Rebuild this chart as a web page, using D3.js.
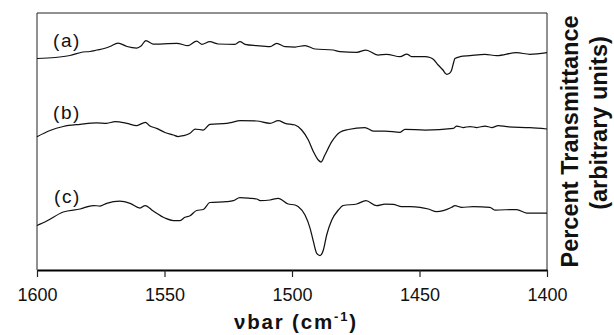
<!DOCTYPE html>
<html>
<head>
<meta charset="utf-8">
<script src="https://cdn.jsdelivr.net/npm/d3@7"></script>
<style>
  body { margin: 0; background: #fff; }
  svg { display: block; font-family: "Liberation Sans", Arial, sans-serif; }
</style>
</head>
<body>
<svg id="chart"></svg>
<script>
// wavenumber (cm-1), transmittance (arbitrary, offset per trace)
const seriesA = [
  [1600, 211.5], [1592.9, 212.5], [1587.1, 214.5], [1582.0, 218], [1579.2, 218.5],
  [1576.5, 220], [1573.7, 221.5], [1571.4, 223.5], [1568.2, 227], [1564.7, 223.5],
  [1560.9, 222], [1559.2, 224], [1557.3, 229.3], [1554.5, 226], [1551.8, 226],
  [1545.2, 226.7], [1540.7, 224.3], [1537.4, 229], [1535.4, 225.7], [1532.2, 228.3],
  [1528.9, 226], [1522.4, 225.7], [1520.4, 228.3], [1518.4, 225.7], [1513.8, 224.3],
  [1508.6, 223.3], [1506.0, 226.7], [1502.7, 223.3], [1498.8, 223], [1494.9, 224.5],
  [1491.0, 221], [1483.9, 220], [1481.2, 218.3], [1474.6, 217.7], [1471.0, 220],
  [1466.3, 215], [1462.9, 215.7], [1457.6, 213.3], [1455.0, 216], [1453.1, 213.3],
  [1447.8, 213.3], [1445.9, 212.5], [1444.6, 210.7], [1442.7, 205], [1440.8, 200],
  [1439.9, 196.7], [1439.3, 195.7], [1438.2, 196.7], [1437.4, 200], [1436.7, 206.7],
  [1436.1, 211.5], [1434.1, 213.3], [1430.2, 214.3], [1424.3, 215.7], [1419.7, 214.3],
  [1411.9, 217.3], [1406.7, 215.7], [1400, 217.3]
];
const seriesB = [
  [1600, 133.3], [1594.9, 139.5], [1589.7, 143.5], [1583.1, 145.7], [1576.6, 147.2],
  [1572.7, 146.7], [1569.4, 148.3], [1564.8, 146.7], [1560.9, 144.5], [1557.5, 147.7],
  [1555.7, 144], [1553.1, 141.7], [1549.8, 137.5], [1546.5, 135], [1544.7, 133.5],
  [1542.6, 134.3], [1540.0, 136.7], [1538.0, 141], [1534.8, 140], [1532.2, 145.7],
  [1525.6, 146.7], [1523.6, 147.7], [1520.4, 149.5], [1513.8, 149], [1508.6, 146.7],
  [1505.4, 149.3], [1502.7, 146.7], [1498.8, 145], [1496.2, 140], [1493.6, 130],
  [1491.6, 118.3], [1489.7, 110], [1488.6, 108], [1487.1, 115], [1484.4, 128.3],
  [1481.2, 137.7], [1477.9, 140.5], [1471.4, 142.5], [1468.1, 139], [1463.5, 139],
  [1457.6, 137.7], [1455.7, 140.7], [1447.8, 140], [1436.7, 141.7], [1435.4, 144],
  [1432.9, 142.5], [1430.2, 143.5], [1427.5, 142.5], [1424.3, 144], [1421.7, 142.5],
  [1419.1, 144.3], [1415.8, 143.3], [1406.7, 142.3], [1400, 141]
];
const seriesC = [
  [1600, 44.5], [1596.2, 49], [1589.7, 58], [1583.1, 61], [1577.9, 64.5],
  [1575.3, 64], [1572.7, 66.7], [1567.5, 69], [1563.5, 66.7], [1559.6, 62],
  [1557.6, 64.5], [1554.4, 59], [1549.8, 52], [1546.5, 49.5], [1543.9, 49.5],
  [1542.0, 52.7], [1540.0, 54.3], [1537.4, 59.5], [1534.8, 60.5], [1532.2, 67.5],
  [1525.6, 68.3], [1523.0, 69.3], [1520.4, 72.3], [1516.5, 71.7], [1513.8, 71],
  [1512.5, 69.3], [1508.6, 70], [1505.4, 71.7], [1501.5, 66], [1498.8, 65],
  [1497.5, 63.3], [1494.9, 55], [1492.9, 41.7], [1491.6, 28.3], [1490.3, 16.7],
  [1489.0, 14.5], [1487.7, 20], [1486.4, 35], [1484.4, 50], [1481.8, 60],
  [1479.9, 64.5], [1474.6, 66], [1471.0, 69.3], [1466.8, 64.3], [1463.5, 66],
  [1460.3, 65.7], [1457.0, 63.3], [1453.7, 63.3], [1449.8, 62.7], [1446.5, 61],
  [1443.3, 58.3], [1440.7, 59.3], [1437.4, 62.7], [1436.1, 64.3], [1433.5, 62.7],
  [1428.9, 63.3], [1422.4, 62.7], [1420.4, 60], [1411.9, 60.5], [1408.0, 57],
  [1400, 57]
];
const seriesNames = ["(a)", "(b)", "(c)"];
const xTicks = [1600, 1550, 1500, 1450, 1400];

const W = 614, H = 335;
const margin = {top: 13, right: 67, bottom: 65, left: 37};

const svg = d3.select("#chart").attr("width", W).attr("height", H);

const x = d3.scaleLinear().domain([1600, 1400]).range([margin.left, W - margin.right]);
const y = d3.scaleLinear().domain([0, 257]).range([H - margin.bottom, margin.top]);

// frame: left, top, right
const x0 = x(1600), x1 = x(1400), yTop = y(257), yBot = y(0);
svg.append("path")
  .attr("d", `M${x0},${yBot}V${yTop}H${x1}V${yBot}`)
  .attr("fill", "none")
  .attr("stroke", "#222")
  .attr("stroke-width", 1);

// bottom axis
const xAxis = svg.append("g")
  .attr("transform", `translate(0,${yBot})`)
  .call(d3.axisBottom(x).tickValues(xTicks).tickSize(7).tickSizeOuter(0).tickPadding(11).tickFormat(d3.format("d")));
xAxis.select(".domain").attr("stroke", "#000").attr("stroke-width", 2);
xAxis.selectAll(".tick line").attr("stroke", "#222").attr("stroke-width", 1.2);
xAxis.selectAll(".tick text")
  .attr("font-family", "Liberation Sans, Arial, sans-serif")
  .attr("font-size", "18px")
  .attr("fill", "#111");

// traces
const line = d3.line()
  .x(d => x(d[0]))
  .y(d => y(d[1]))
  .curve(d3.curveMonotoneX);

[seriesA, seriesB, seriesC].forEach(s => {
  svg.append("path")
    .datum(s)
    .attr("d", line)
    .attr("fill", "none")
    .attr("stroke", "#111")
    .attr("stroke-width", 1.25);
});

// trace labels
const labelPos = [[1593.7, 223.5], [1593.7, 150.7], [1593.3, 66.7]];
svg.selectAll("text.trace-label")
  .data(seriesNames)
  .enter()
  .append("text")
  .attr("class", "trace-label")
  .attr("x", (d, i) => x(labelPos[i][0]))
  .attr("y", (d, i) => y(labelPos[i][1]))
  .attr("font-size", "19px")
  .attr("letter-spacing", "1.5px")
  .attr("fill", "#111")
  .text(d => d);

// x title
const xt = svg.append("text")
  .attr("x", (x0 + x1) / 2 + 3)
  .attr("y", 329)
  .attr("text-anchor", "middle")
  .attr("font-size", "20.5px")
  .attr("font-weight", "bold")
  .attr("textLength", 122)
  .attr("lengthAdjust", "spacing")
  .attr("fill", "#111");
xt.append("tspan").text("νbar (cm");
xt.append("tspan").attr("font-size", "13px").attr("dy", "-8").text("-1");
xt.append("tspan").attr("dy", "8").text(")");

// right y title, two lines
const yMid = (yTop + yBot) / 2;
svg.append("text")
  .attr("transform", `translate(578,${yMid}) rotate(-90)`)
  .attr("text-anchor", "middle")
  .attr("font-size", "23.5px")
  .attr("font-weight", "bold")
  .attr("fill", "#111")
  .text("Percent Transmittance");
svg.append("text")
  .attr("transform", "translate(607,123) rotate(-90)")
  .attr("text-anchor", "middle")
  .attr("font-size", "23.5px")
  .attr("font-weight", "bold")
  .attr("fill", "#111")
  .text("(arbitrary units)");
</script>
</body>
</html>
